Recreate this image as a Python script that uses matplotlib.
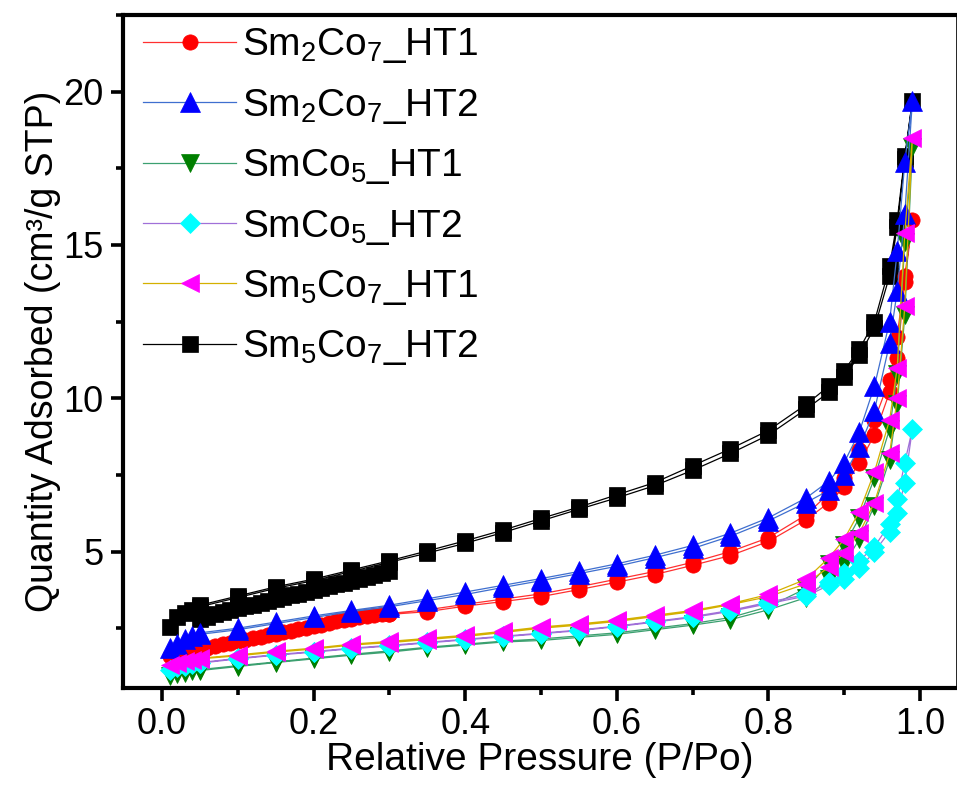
import matplotlib
matplotlib.use("Agg")
import matplotlib.pyplot as plt
from matplotlib.ticker import MultipleLocator

plt.rcParams['font.family'] = ['Liberation Sans', 'DejaVu Sans']
plt.rcParams['mathtext.fontset'] = 'custom'
plt.rcParams['mathtext.rm'] = 'Liberation Sans'
plt.rcParams['mathtext.it'] = 'Liberation Sans'
plt.rcParams['mathtext.default'] = 'rm'

# Relative pressure grids (adsorption up, desorption down)
P_ADS = [0.01, 0.02, 0.03, 0.04, 0.05, 0.10, 0.15, 0.20, 0.25, 0.30, 0.35, 0.40, 0.45,
         0.50, 0.55, 0.60, 0.65, 0.70, 0.75, 0.80, 0.85, 0.88, 0.90, 0.92, 0.94, 0.96,
         0.97, 0.98, 0.99]
P_DES = [0.98, 0.97, 0.96, 0.94, 0.92, 0.90, 0.88, 0.85, 0.80, 0.75, 0.70, 0.65, 0.60,
         0.55, 0.50, 0.45, 0.40, 0.35, 0.30, 0.25, 0.20, 0.15, 0.10, 0.05]
# dense low-pressure points (Sm2Co7_HT1 and Sm5Co7_HT2)
P_FINE = [0.05, 0.06, 0.07, 0.08, 0.09, 0.10, 0.11, 0.12, 0.13, 0.14, 0.15, 0.16, 0.17,
          0.18, 0.19, 0.20, 0.21, 0.22, 0.23, 0.24, 0.25, 0.26, 0.27, 0.28, 0.29, 0.30]

# Sm2Co7_HT1
red_ads = [1.60, 1.75, 1.85, 1.92, 1.98, 2.20, 2.42, 2.62, 2.80, 2.95, 3.04, 3.22, 3.37,
           3.53, 3.76, 4.00, 4.25, 4.55, 4.87, 5.33, 6.04, 6.60, 7.10, 7.90, 8.80, 10.2,
           11.3, 13.8, 15.8]
red_des = [14.0, 12.0, 10.6, 9.3, 8.3, 7.4, 6.9, 6.2, 5.45, 5.0, 4.65, 4.35, 4.1, 3.85,
           3.62, 3.45, 3.28, 3.1, 2.98, 2.82, 2.62, 2.42, 2.2, 1.95]
red_fine = [1.80, 1.86, 1.92, 1.97, 2.02, 2.07, 2.12, 2.17, 2.22, 2.27, 2.32, 2.37, 2.42,
            2.47, 2.52, 2.57, 2.62, 2.67, 2.72, 2.77, 2.82, 2.86, 2.90, 2.94, 2.98, 3.02]

# Sm2Co7_HT2
blue_ads = [1.85, 2.00, 2.15, 2.25, 2.30, 2.45, 2.65, 2.85, 3.04, 3.20, 3.40, 3.60, 3.83,
            4.05, 4.28, 4.52, 4.80, 5.10, 5.50, 6.00, 6.60, 7.00, 7.50, 8.40, 9.60, 11.8,
            13.5, 16.0, 19.7]
blue_des = [17.7, 14.8, 12.5, 10.4, 8.9, 7.9, 7.3, 6.75, 6.1, 5.6, 5.2, 4.88, 4.6, 4.35,
            4.12, 3.9, 3.68, 3.46, 3.25, 3.08, 2.9, 2.7, 2.5, 2.35]

# SmCo5_HT1
green_ads = [0.95, 1.00, 1.05, 1.10, 1.12, 1.25, 1.38, 1.50, 1.62, 1.72, 1.85, 1.95, 2.05,
             2.10, 2.20, 2.30, 2.45, 2.60, 2.78, 3.10, 3.50, 4.10, 4.60, 5.40, 6.50, 8.00,
             9.80, 12.7, 18.2]
green_des = [15.1, 10.8, 9.0, 7.4, 6.1, 5.2, 4.6, 3.8, 3.2, 2.85, 2.65, 2.5, 2.35, 2.25,
             2.15, 2.08, 1.98, 1.88, 1.76, 1.65, 1.53, 1.4, 1.28, 1.15]

# SmCo5_HT2
cyan_ads = [1.15, 1.22, 1.28, 1.33, 1.36, 1.50, 1.62, 1.72, 1.83, 1.92, 2.02, 2.12, 2.22,
            2.32, 2.42, 2.55, 2.70, 2.85, 3.05, 3.30, 3.55, 3.90, 4.10, 4.45, 5.00, 5.65,
            6.25, 7.25, 9.00]
cyan_des = [7.9, 6.7, 5.9, 5.16, 4.7, 4.3, 4.0, 3.6, 3.35, 3.08, 2.88, 2.72, 2.57, 2.44,
            2.34, 2.24, 2.14, 2.04, 1.94, 1.85, 1.74, 1.64, 1.52, 1.38]

# Sm5Co7_HT1
mag_ads = [1.30, 1.38, 1.42, 1.46, 1.50, 1.60, 1.72, 1.82, 1.95, 2.03, 2.13, 2.23, 2.36,
           2.50, 2.60, 2.72, 2.88, 3.04, 3.27, 3.53, 3.95, 4.50, 4.95, 5.60, 6.60, 8.20,
           10.0, 13.0, 18.5]
mag_des = [15.4, 11.0, 9.3, 7.6, 6.3, 5.4, 4.8, 4.1, 3.6, 3.3, 3.08, 2.92, 2.76, 2.64,
           2.54, 2.4, 2.27, 2.17, 2.07, 1.98, 1.85, 1.75, 1.63, 1.52]

# Sm5Co7_HT2
black_ads = [2.55, 2.85, 3.00, 3.10, 3.20, 3.50, 3.80, 4.05, 4.35, 4.65, 4.95, 5.27, 5.62,
             6.00, 6.38, 6.75, 7.15, 7.65, 8.20, 8.80, 9.65, 10.2, 10.7, 11.4, 12.3, 14.0,
             15.6, 17.8, 19.7]
black_des = [17.9, 15.8, 14.3, 12.5, 11.6, 10.9, 10.4, 9.8, 8.95, 8.35, 7.8, 7.25, 6.85,
             6.45, 6.08, 5.7, 5.35, 5.02, 4.7, 4.4, 4.1, 3.85, 3.55, 3.25]
black_fine = [2.80, 2.88, 2.95, 3.02, 3.09, 3.15, 3.21, 3.27, 3.33, 3.39, 3.45, 3.51, 3.57,
              3.63, 3.69, 3.75, 3.81, 3.87, 3.93, 3.99, 4.05, 4.11, 4.17, 4.23, 4.30, 4.38]

labels = ['Sm$_2$Co$_7$_HT1', 'Sm$_2$Co$_7$_HT2', 'SmCo$_5$_HT1', 'SmCo$_5$_HT2',
          'Sm$_5$Co$_7$_HT1', 'Sm$_5$Co$_7$_HT2']

fig = plt.figure(figsize=(9.57, 7.92), dpi=100)
ax = fig.add_axes([0.1285, 0.1313, 0.8720, 0.8498])

# (ads, des, fine, line colour, marker, marker colour, size, zorder)
series = [
    (red_ads, red_des, red_fine, '#FF3030', 'o', '#FF0000', 11, 3),
    (blue_ads, blue_des, None, '#3F6FCF', '^', '#0000FF', 14, 6),
    (green_ads, green_des, None, '#3CA070', 'v', '#007F00', 13, 4),
    (cyan_ads, cyan_des, None, '#A070D8', 'D', '#00FFFF', 10, 5),
    (mag_ads, mag_des, None, '#D4B000', '<', '#FF00FF', 13, 7),
    (black_ads, black_des, black_fine, '#000000', 's', '#000000', 11, 2),
]

handles = []
for (ads, des, fine, lc, mk, mc, ms, z), lab in zip(series, labels):
    style = dict(color=lc, lw=0.9, marker=mk, markersize=ms, markerfacecolor=mc,
                 markeredgecolor=mc, markeredgewidth=0.5, zorder=z)
    h, = ax.plot(P_ADS + P_DES, ads + des, label=lab, **style)
    if fine is not None:
        ax.plot(P_FINE, fine, **style)
    handles.append(h)

ax.set_xlim(-0.0515, 1.0495)
ax.set_ylim(0.55, 22.5)
ax.xaxis.set_major_locator(MultipleLocator(0.2))
ax.xaxis.set_minor_locator(MultipleLocator(0.1))
ax.yaxis.set_major_locator(MultipleLocator(5))
ax.yaxis.set_minor_locator(MultipleLocator(2.5))
ax.set_xticks([0.0, 0.2, 0.4, 0.6, 0.8, 1.0])
ax.set_xticklabels(['0.0', '0.2', '0.4', '0.6', '0.8', '1.0'])

ax.tick_params(which='major', direction='out', length=9, width=2.6, labelsize=26, pad=5)
ax.tick_params(which='minor', direction='out', length=5, width=2.6)
ax.tick_params(top=False, right=False)
for side in ['left', 'bottom', 'top']:
    ax.spines[side].set_linewidth(3)
ax.spines['right'].set_linewidth(1.2)

ax.set_xlabel('Relative Pressure (P/Po)', fontsize=28, labelpad=0)
ax.set_ylabel('Quantity Adsorbed (cm³/g STP)', fontsize=27, labelpad=2)

ax.legend(handles=handles, loc='upper left', bbox_to_anchor=(0.024, 0.983), frameon=False,
          fontsize=28, handlelength=2.4, handletextpad=0.15, labelspacing=0.55,
          borderpad=0, borderaxespad=0)

fig.savefig('out.png', dpi=100)
